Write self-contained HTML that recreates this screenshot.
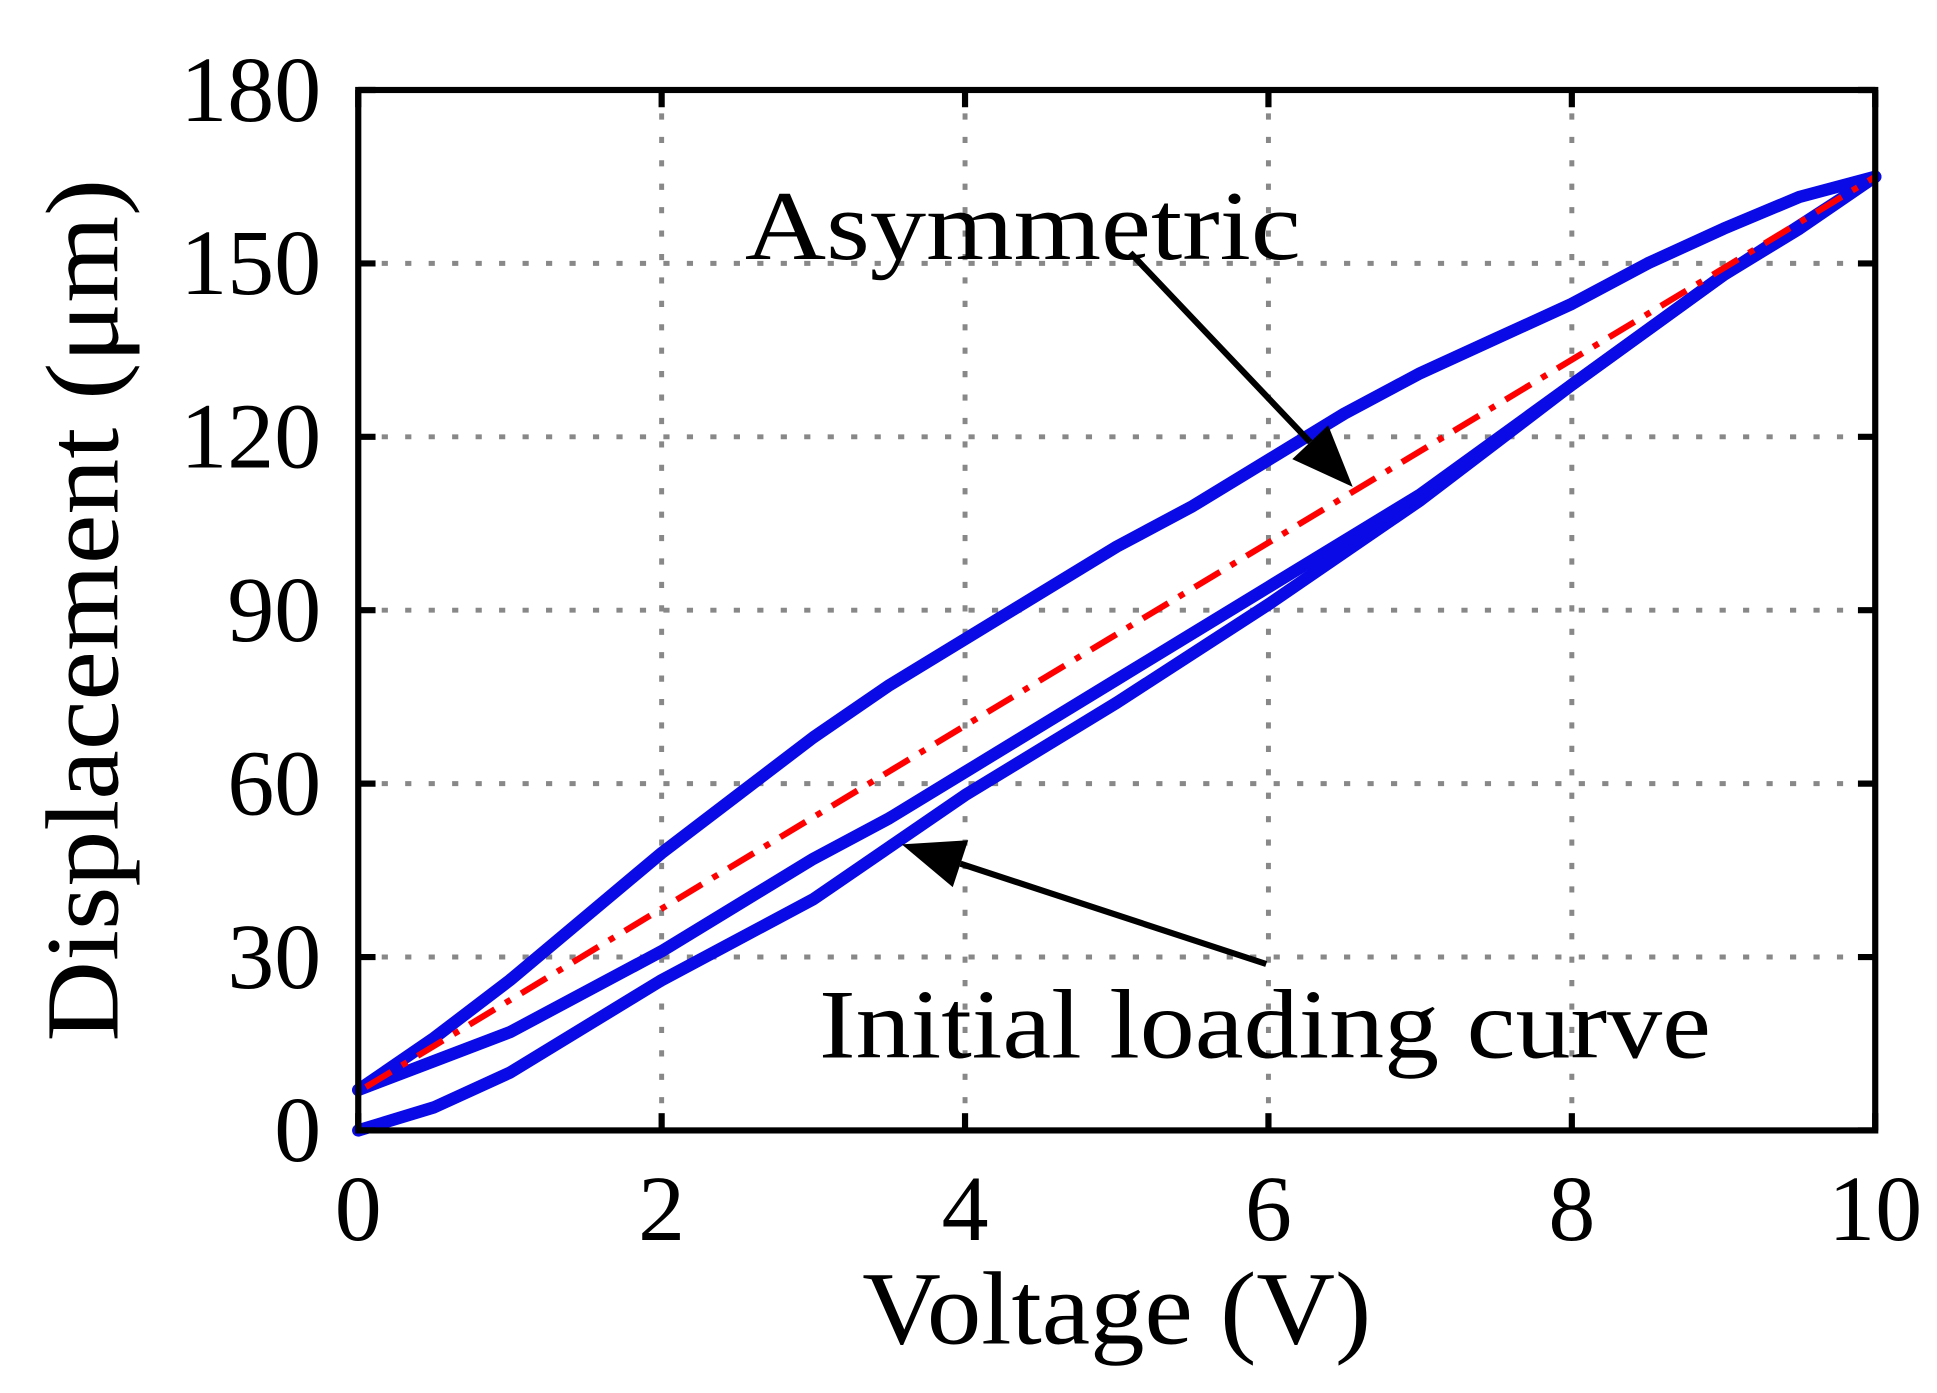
<!DOCTYPE html>
<html><head><meta charset="utf-8"><style>
html,body{margin:0;padding:0;background:#fff;}
svg{display:block;}
text{font-family:"Liberation Serif",serif;fill:#000;}
</style></head><body>
<svg id="chart" width="1937" height="1393" viewBox="0 0 1568 1130" preserveAspectRatio="none" xmlns="http://www.w3.org/2000/svg">
<g id="grid"></g>
<g id="series"></g>
<g id="axes"></g>
<text x="828" y="210" font-size="80" text-anchor="middle" textLength="450" lengthAdjust="spacingAndGlyphs">Asymmetric</text>
<text x="1024" y="858" font-size="80" text-anchor="middle" textLength="722" lengthAdjust="spacingAndGlyphs">Initial loading curve</text>
<text x="904" y="1090" font-size="84" text-anchor="middle" textLength="412" lengthAdjust="spacingAndGlyphs">Voltage (V)</text>
<text transform="translate(95,495) rotate(-90)" font-size="84" text-anchor="middle" textLength="700" lengthAdjust="spacingAndGlyphs">Displacement (μm)</text>
</svg>
<script>
const xTicks=[0,2,4,6,8,10];
const yTicks=[0,30,60,90,120,150,180];
const initialX=[0,0.5,1,1.5,2,2.5,3,3.5,4,5,6,7,8,9,9.5,10];
const initialY=[0,4,10,18,26,33,40,49,58,74,91,109,129,148,156,165];
const lowerX=[0,0.5,1,1.5,2,2.5,3,3.5,4,5,6,7,8,9,10];
const lowerY=[7,12,17,24,31,39,47,54,62,78,94,110,129,148,165];
const upperX=[10,9.5,9,8.5,8,7.5,7,6.5,6,5.5,5,4.5,4,3.5,3,2.5,2,1.5,1,0.5,0];
const upperY=[165,161.5,156,150,143,137,131,124,116,108,101,93,85,77,68,58,48,37,26,16,7];
const fitX=[0.05,10];
const fitY=[7.5,165];
const X0=290,X1=1518,Y0=917,Y1=73;
const sx=v=>X0+(v-0)/(10)*(X1-X0);
const sy=v=>Y0-(v/180)*(Y0-Y1);
const NS="http://www.w3.org/2000/svg";
function mk(tag,attrs,parent){const e=document.createElementNS(NS,tag);for(const k in attrs)e.setAttribute(k,attrs[k]);parent.appendChild(e);return e;}
const grid=document.getElementById('grid'),axes=document.getElementById('axes'),ser=document.getElementById('series');
xTicks.forEach(t=>{
  if(t>0&&t<10){const l=mk('line',{x1:sx(t),x2:sx(t),y1:Y1,y2:Y0,stroke:'#888','stroke-width':4,'stroke-dasharray':'5 14'},grid);
  
  }
  const a=mk('line',{x1:sx(t),x2:sx(t),y1:Y0,y2:Y0-14,stroke:'#000','stroke-width':5},axes);
  
  
  const b=mk('line',{x1:sx(t),x2:sx(t),y1:Y1,y2:Y1+14,stroke:'#000','stroke-width':5},axes);
  
  
  const tx=mk('text',{x:sx(t),y:1006,'font-size':76,'text-anchor':'middle'},axes);tx.textContent=t;
  
  
});
yTicks.forEach(t=>{
  if(t>0&&t<180){const l=mk('line',{x1:X0,x2:X1,y1:sy(t),y2:sy(t),stroke:'#888','stroke-width':4,'stroke-dasharray':'5 14'},grid);
  
  }
  const a=mk('line',{x1:X0,x2:X0+14,y1:sy(t),y2:sy(t),stroke:'#000','stroke-width':5},axes);
  
  
  const b=mk('line',{x1:X1,x2:X1-14,y1:sy(t),y2:sy(t),stroke:'#000','stroke-width':5},axes);
  
  
  const tx=mk('text',{x:260,y:sy(t)+25,'font-size':76,'text-anchor':'end'},axes);tx.textContent=t;
  
  
});
const fr=mk('rect',{x:X0,y:Y1,width:X1-X0,height:Y0-Y1,fill:'none',stroke:'#000','stroke-width':5},axes);


function pts(xs,ys){return xs.map((x,i)=>sx(x)+','+sy(ys[i])).join(' ');}
[[initialX,initialY,'initial-loading-curve'],[lowerX,lowerY,'ascending-branch'],[upperX,upperY,'descending-branch']].forEach(([xs,ys,n])=>{
  const p=mk('polyline',{points:pts(xs,ys),fill:'none',stroke:'#0a0ae6','stroke-width':10,'stroke-linejoin':'round','stroke-linecap':'round'},ser);
  
  
});
const f=mk('polyline',{points:pts(fitX,fitY),fill:'none',stroke:'#f00','stroke-width':5,'stroke-dasharray':'24 10 5 10'},ser);


function arrow(x1,y1,x2,y2,name){
  const g=mk('g',{},document.getElementById('chart'));
  
  
  const ang=Math.atan2(y2-y1,x2-x1),L=50,W=20;
  const bx=x2-L*Math.cos(ang),by=y2-L*Math.sin(ang);
  mk('line',{x1:x1,y1:y1,x2:bx,y2:by,stroke:'#000','stroke-width':5},g);
  const px=-Math.sin(ang)*W,py=Math.cos(ang)*W;
  mk('polygon',{points:`${x2},${y2} ${bx+px},${by+py} ${bx-px},${by-py}`,fill:'#000'},g);
}
arrow(915,205,1095,395,'asymmetric-arrow');
arrow(1025,782,730,685,'initial-loading-arrow');
</script>
</body></html>
